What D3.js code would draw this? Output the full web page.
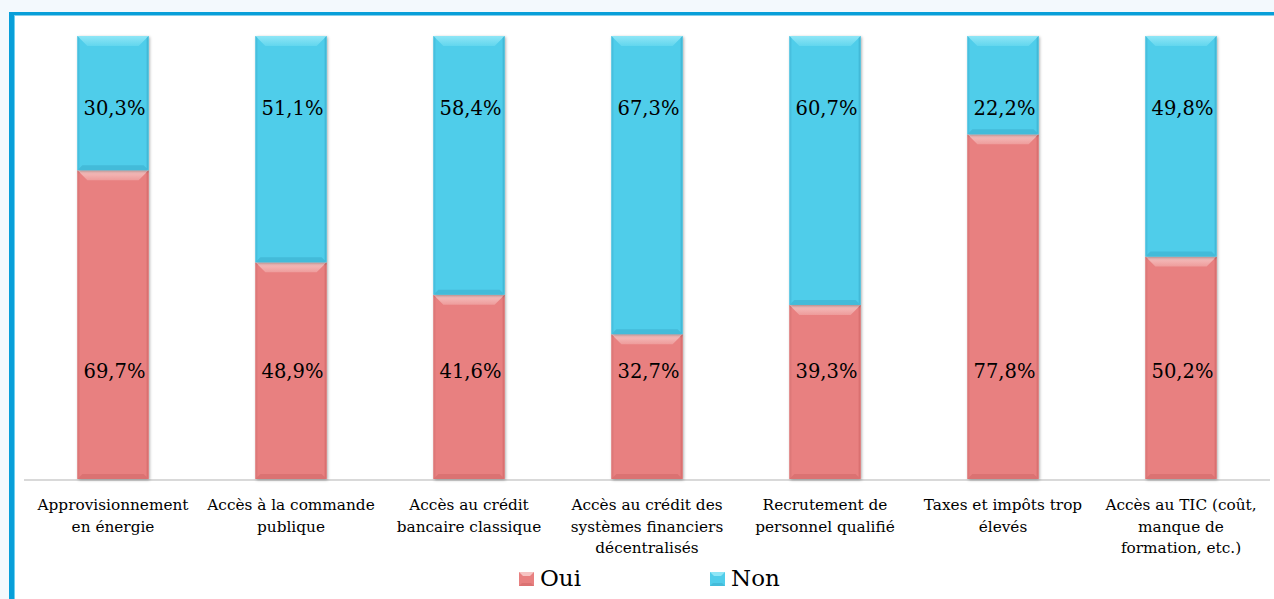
<!DOCTYPE html>
<html>
<head>
<meta charset="utf-8">
<script src="https://cdn.jsdelivr.net/npm/d3@7/dist/d3.min.js"></script>
<style>
  html, body { margin: 0; padding: 0; background: #f3f9fd; }
  svg { display: block; }
</style>
</head>
<body>
<svg id="chart" width="1274" height="599" font-family="'DejaVu Serif', serif"></svg>
<script>
// Obstacles rencontrés : part des réponses Oui / Non (%)
const categories = [
  "Approvisionnement\nen énergie",
  "Accès à la commande\npublique",
  "Accès au crédit\nbancaire classique",
  "Accès au crédit des\nsystèmes financiers\ndécentralisés",
  "Recrutement de\npersonnel qualifié",
  "Taxes et impôts trop\nélevés",
  "Accès au TIC (coût,\nmanque de\nformation, etc.)"
];
const oui = [69.7, 48.9, 41.6, 32.7, 39.3, 77.8, 50.2];
const non = [30.3, 51.1, 58.4, 67.3, 60.7, 22.2, 49.8];
const seriesNames = ["Oui", "Non"];

const W = 1274, H = 599;
const svg = d3.select("#chart");

// frame: white panel with a blue rule on the left and top
svg.append("rect").attr("x", 12).attr("y", 14).attr("width", W).attr("height", H).attr("fill", "#ffffff");
svg.append("rect").attr("x", 9).attr("y", 12).attr("width", 5).attr("height", H).attr("fill", "#089fd9");
svg.append("rect").attr("x", 9).attr("y", 12).attr("width", W).attr("height", 3.5).attr("fill", "#089fd9");
svg.append("rect").attr("x", 14).attr("y", 15.5).attr("width", 1).attr("height", H).attr("fill", "#6fd0f0");

const x = d3.scaleBand().domain(categories).range([24, 1270]).paddingInner(0.6).paddingOuter(0.3);
const y = d3.scaleLinear().domain([0, 100]).range([479, 36]);

const defs = svg.append("defs");
const shadow = defs.append("filter").attr("id", "shadow")
  .attr("x", "-20%").attr("y", "-10%").attr("width", "140%").attr("height", "120%");
shadow.append("feDropShadow").attr("dx", 1).attr("dy", 1).attr("stdDeviation", 1.6)
  .attr("flood-color", "#000").attr("flood-opacity", 0.35);

const palette = {
  Oui: { base: "#e88080", light: "#f6c4c3", lightEnd: "#ee9c9b", dark: "#d66c6c", edge: "#d97575" },
  Non: { base: "#50cdea", light: "#8fe6f6", lightEnd: "#62d6ee", dark: "#3fb4d2", edge: "#45bcdb" }
};

Object.entries(palette).forEach(([k, c]) => {
  const g = defs.append("linearGradient").attr("id", "bevel" + k)
    .attr("x1", 0).attr("y1", 0).attr("x2", 0).attr("y2", 1);
  g.append("stop").attr("offset", "0%").attr("stop-color", c.light);
  g.append("stop").attr("offset", "100%").attr("stop-color", c.lightEnd);
});

// axis baseline
svg.append("line").attr("x1", 24).attr("x2", 1270).attr("y1", y(0) + 1).attr("y2", y(0) + 1)
  .attr("stroke", "#d9d9d9").attr("stroke-width", 2);

const rows = categories.map((c, i) => ({ cat: c, Oui: oui[i], Non: non[i] }));
const stacked = d3.stack().keys(seriesNames)(rows);

const bw = x.bandwidth();
stacked.forEach(layer => {
  const key = layer.key;
  const c = palette[key];
  layer.forEach(d => {
    const x0 = x(d.data.cat);
    const y0 = y(d[1]), y1 = y(d[0]);
    const h = y1 - y0;
    const g = svg.append("g");
    g.append("rect").attr("x", x0).attr("y", y0).attr("width", bw).attr("height", h)
      .attr("fill", c.base).attr("filter", "url(#shadow)");
    const b = 10, bb = 5;
    // raised top bevel
    g.append("path")
      .attr("d", `M${x0},${y0}H${x0 + bw}L${x0 + bw - b},${y0 + b}H${x0 + b}Z`)
      .attr("fill", `url(#bevel${key})`);
    // shaded lower bevel
    g.append("path")
      .attr("d", `M${x0},${y1}H${x0 + bw}L${x0 + bw - bb},${y1 - bb}H${x0 + bb}Z`)
      .attr("fill", c.dark).attr("opacity", 0.7);
    // side edges
    g.append("path")
      .attr("d", `M${x0},${y0}L${x0 + 2},${y0 + 2}V${y1 - 2}L${x0},${y1}Z`)
      .attr("fill", c.edge).attr("opacity", 0.8);
    g.append("path")
      .attr("d", `M${x0 + bw},${y0}L${x0 + bw - 2},${y0 + 2}V${y1 - 2}L${x0 + bw},${y1}Z`)
      .attr("fill", c.dark).attr("opacity", 0.8);
  });
});

// value labels
const fmt = v => d3.format(".1f")(v).replace(".", ",") + "%";
const labelY = { Oui: 378, Non: 115 };
seriesNames.forEach(key => {
  svg.append("g").selectAll("text").data(rows).join("text")
    .attr("x", d => x(d.cat) + bw / 2 + 1.5)
    .attr("y", labelY[key])
    .attr("text-anchor", "middle")
    .attr("fill", "#000")
    .style("font-size", "19.5px")
    .text(d => fmt(d[key]));
});

// category axis labels
const xAxis = svg.append("g").selectAll("text").data(categories).join("text")
  .attr("x", d => x(d) + bw / 2)
  .attr("y", 510)
  .attr("text-anchor", "middle")
  .attr("fill", "#000")
  .style("font-size", "15.3px");
xAxis.each(function (d) {
  d3.select(this).selectAll("tspan").data(d.split("\n")).join("tspan")
    .attr("x", x(d) + bw / 2)
    .attr("dy", (t, i) => i === 0 ? 0 : 21.5)
    .text(t => t);
});

// legend
const legendX = [519, 710];
seriesNames.forEach((key, i) => {
  const c = palette[key];
  const lg = svg.append("g").attr("transform", `translate(${legendX[i]},572)`);
  lg.append("rect").attr("width", 15).attr("height", 14).attr("fill", c.base);
  lg.append("path").attr("d", "M0,0H15L11,4H4Z").attr("fill", c.light);
  lg.append("path").attr("d", "M0,14H15L12,11H3Z").attr("fill", c.dark).attr("opacity", 0.7);
  lg.append("text").attr("x", 21).attr("y", 14).attr("fill", "#000").style("font-size", "23px").text(key);
});
</script>
</body>
</html>
